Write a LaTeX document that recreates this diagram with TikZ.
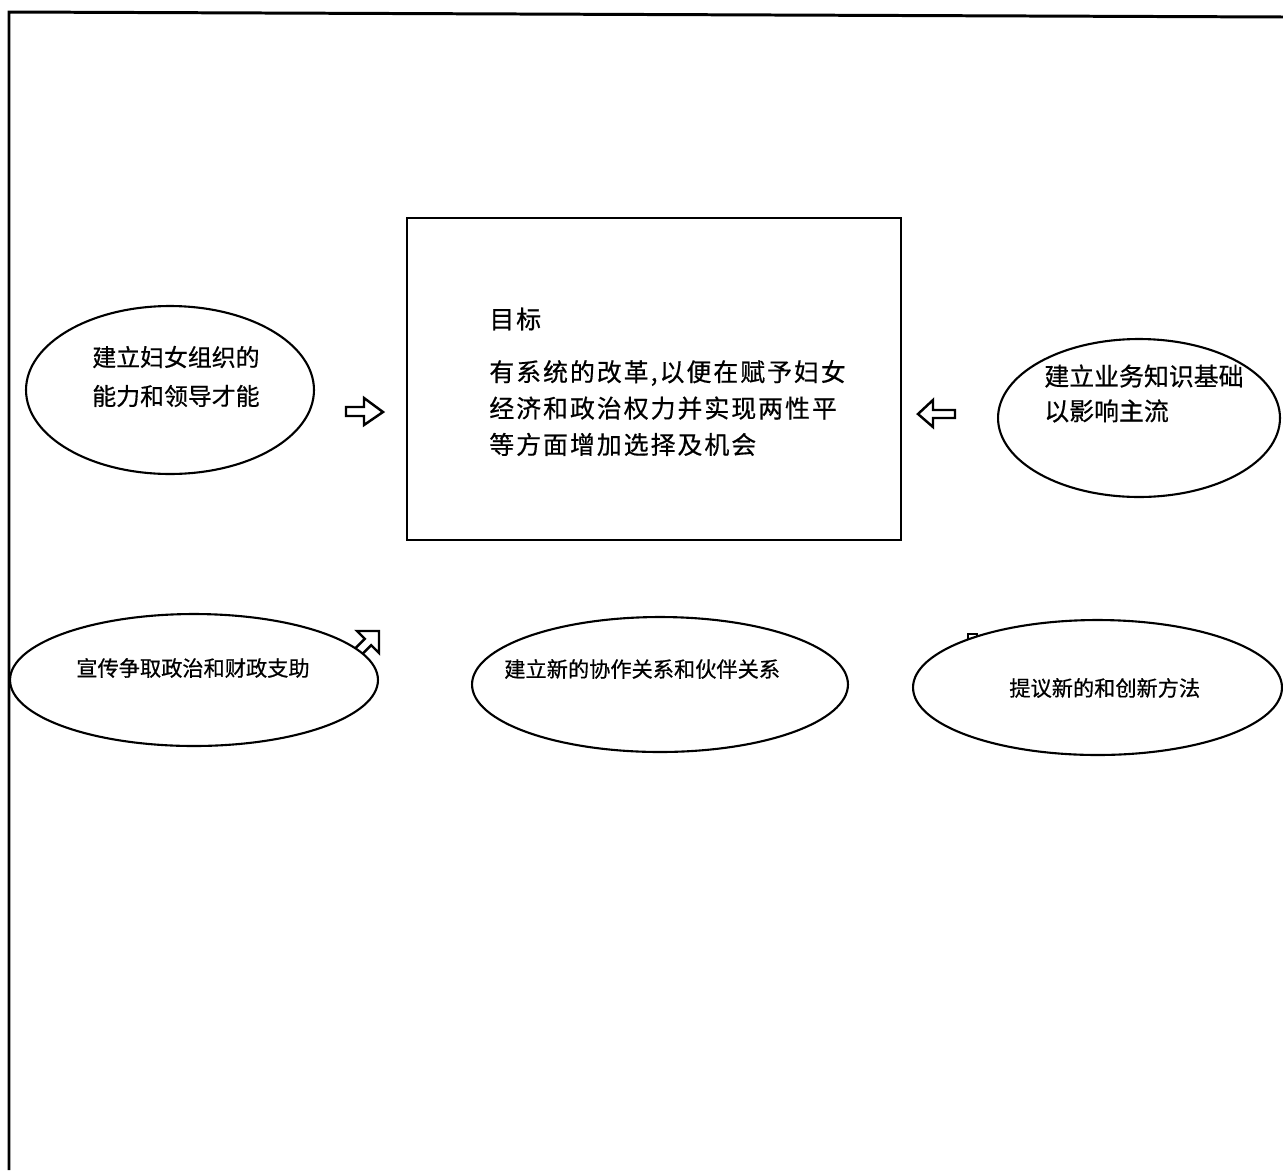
\documentclass[tikz,border=0pt]{standalone}
\usepackage{fontspec}
\newfontfamily\cjk[FakeBold=0.6]{Noto Sans CJK SC}
\newfontfamily\cjkw[LetterSpace=8,FakeBold=0.6]{Noto Sans CJK SC}
\usetikzlibrary{shapes.geometric}
\begin{document}
\begin{tikzpicture}[x=0.02cm,y=-0.02cm,
  oval/.style={ellipse,draw,line width=1.2pt,fill=white,inner sep=0pt},
  goalbox/.style={rectangle,draw,line width=1.4pt,inner sep=0pt},
  boxtxt/.style={font=\cjkw\fontsize{14.17pt}{20.7pt}\selectfont,align=left,anchor=west,inner sep=0pt},
  toptxtA/.style={font=\cjk\fontsize{13.6pt}{22.1pt}\selectfont,align=left,anchor=west,inner sep=0pt},
  toptxtB/.style={font=\cjk\fontsize{14.17pt}{19.8pt}\selectfont,align=left,anchor=west,inner sep=0pt},
  lowtxt/.style={font=\cjk\fontsize{12.07pt}{14pt}\selectfont,anchor=west,inner sep=0pt},
  blockarrow/.style={draw,line width=1.4pt,fill=white,line join=miter},
  frameline/.style={line width=1.7pt}]
\useasboundingbox (0,0) rectangle (1283,1170);

% frame
\coordinate (tl) at (9,12);
\coordinate (tr) at (1283,17);
\coordinate (bl) at (9,1170);
\draw[frameline] (tr) -- (tl) -- (bl);

% hidden arrows (drawn first, partly covered by ellipses)
\draw[blockarrow] (379,631) -- (357,631) -- (364.8,638.8) -- (336.8,666.8) -- (343.2,673.2) -- (371.2,645.2) -- (379,653) -- cycle;
\draw[blockarrow] (968,634) -- (977,634) -- (977,652) -- (968,652) -- cycle;

% goal box
\node[goalbox,minimum width=9.88cm,minimum height=6.44cm] (goal) at (654,379) {};
\node[boxtxt] (goaltitle) at (489,319) {目标};
\node[boxtxt] (goaltext) at (489,408) {有系统的改革,以便在赋予妇女\\经济和政治权力并实现两性平\\等方面增加选择及机会};

% top ellipses
\node[oval,minimum width=5.76cm,minimum height=3.36cm] (e1) at (170,390) {};
\node[toptxtA] (t1) at (92,376.5) {建立妇女组织的\\能力和领导才能};
\node[oval,minimum width=5.64cm,minimum height=3.16cm] (e2) at (1139,418) {};
\node[toptxtB] (t2) at (1044,393.5) {建立业务知识基础\\以影响主流};

% horizontal block arrows
\draw[blockarrow] (346,407) -- (364,407) -- (364,398) -- (383,412) -- (364,425) -- (364,416) -- (346,416) -- cycle;
\draw[blockarrow] (955,410) -- (933,410) -- (933,400) -- (918,414) -- (933,427) -- (933,418) -- (955,418) -- cycle;

% bottom ellipses
\node[oval,minimum width=7.36cm,minimum height=2.64cm] (e3) at (194,680) {};
\node[lowtxt] (t3) at (76,668) {宣传争取政治和财政支助};
\node[oval,minimum width=7.52cm,minimum height=2.7cm] (e4) at (660,684.5) {};
\node[lowtxt] (t4) at (504,669) {建立新的协作关系和伙伴关系};
\node[oval,minimum width=7.38cm,minimum height=2.7cm] (e5) at (1097.5,687.5) {};
\node[lowtxt] (t5) at (1009,688) {提议新的和创新方法};
\end{tikzpicture}
\end{document}
